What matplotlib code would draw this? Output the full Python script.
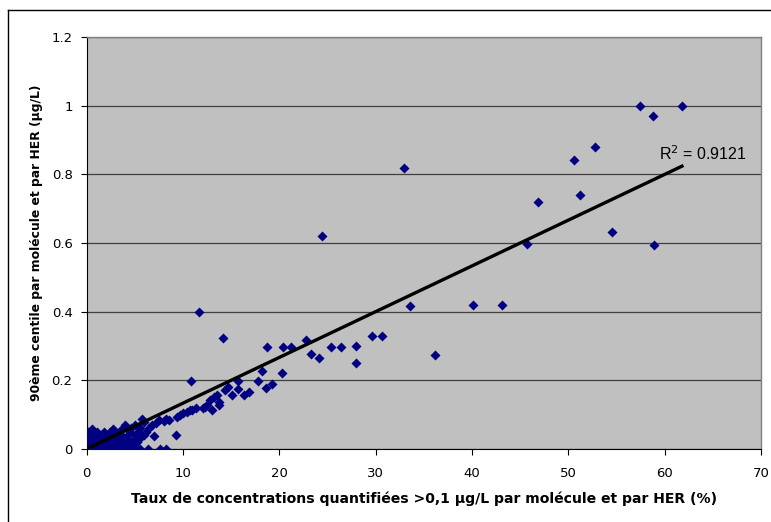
import matplotlib.pyplot as plt
import numpy as np
from matplotlib.ticker import FormatStrFormatter

plt.rcParams['font.family'] = ['DejaVu Sans']

# taux de concentrations quantifiees (%) / 90eme centile (ug/L)
x_cluster = [0, 0.2, 0.4, 0.6, 0.8, 1.0, 1.3, 1.6, 2.0, 2.3, 2.7, 3.0, 3.4, 3.8, 4.2, 4.6, 5.0, 5.6, 6.4, 7.6, 8.3,
             0.1, 0.3, 0.5, 0.8, 1.1, 1.5, 1.9, 2.4, 2.9, 3.5, 4.1, 4.8,
             0.0, 0.2, 0.5, 0.9, 1.2, 1.7, 2.2, 2.6, 3.1, 3.7, 4.4, 5.2,
             0.1, 0.4, 0.7, 1.0, 1.4, 2.0, 2.5, 3.3, 4.0, 4.9, 5.5,
             0.0, 0.3, 0.9, 1.6, 2.1, 2.8, 3.6, 4.3, 5.1, 6.0, 7.0,
             0.2, 1.1, 1.8, 2.4, 3.4, 4.5, 5.3, 6.2,
             0.6, 2.8, 3.8, 4.6, 5.6, 6.5,
             4.0, 5.0, 6.8, 7.2,
             5.8, 6.0, 7.5, 8.0, 8.2, 9.3]
y_cluster = [0, 0, 0, 0, 0, 0, 0, 0, 0, 0, 0, 0, 0, 0, 0, 0, 0, 0, 0, 0, 0,
             0.01, 0.01, 0.01, 0.01, 0.01, 0.01, 0.01, 0.01, 0.01, 0.01, 0.01, 0.01,
             0.02, 0.02, 0.02, 0.02, 0.02, 0.02, 0.02, 0.02, 0.02, 0.02, 0.02, 0.02,
             0.03, 0.03, 0.03, 0.03, 0.03, 0.03, 0.03, 0.03, 0.03, 0.03, 0.03,
             0.04, 0.04, 0.04, 0.04, 0.04, 0.04, 0.04, 0.04, 0.04, 0.04, 0.038,
             0.05, 0.05, 0.05, 0.05, 0.05, 0.05, 0.05, 0.05,
             0.057, 0.057, 0.06, 0.06, 0.06, 0.06,
             0.07, 0.07, 0.07, 0.075,
             0.087, 0.08, 0.085, 0.083, 0.087, 0.041]

x_mid = [8.6, 9.4, 9.7, 10.0, 10.4, 10.7, 11.0, 11.4, 12.1, 12.3, 12.5, 12.8, 13.0, 13.2, 13.5, 13.7, 13.8,
         10.8, 11.7, 14.2, 14.4, 14.7, 15.1, 15.7, 15.7, 16.3, 16.9, 17.8, 18.2, 18.6, 19.3, 18.7,
         20.3, 20.4, 21.2, 22.8, 23.3, 24.1, 24.4, 25.4, 26.4, 28.0, 28.0, 29.6, 30.7]
y_mid = [0.085, 0.092, 0.098, 0.106, 0.109, 0.114, 0.114, 0.119, 0.119, 0.123, 0.128, 0.143, 0.114, 0.152, 0.157, 0.138, 0.128,
         0.198, 0.399, 0.322, 0.172, 0.182, 0.157, 0.198, 0.174, 0.157, 0.167, 0.198, 0.227, 0.177, 0.19, 0.297,
         0.22, 0.297, 0.297, 0.318, 0.278, 0.266, 0.62, 0.297, 0.297, 0.301, 0.25, 0.329, 0.329]

x_high = [32.9, 33.6, 36.2, 40.1, 43.1, 45.7, 46.9, 50.6, 51.2, 52.8, 54.5, 57.4, 58.8, 58.9, 61.8]
y_high = [0.819, 0.417, 0.273, 0.420, 0.420, 0.597, 0.720, 0.842, 0.740, 0.881, 0.631, 1.0, 0.971, 0.593, 1.0]

x_vals = np.array(x_cluster + x_mid + x_high)
y_vals = np.array(y_cluster + y_mid + y_high)

# courbe de tendance lineaire
trend_slope = 0.01333
trend_intercept = 0.0
r2_label = 'R$^2$ = 0.9121'

fig = plt.figure(figsize=(7.71, 5.22), dpi=100)
ax = fig.add_axes([86.5 / 771, 1 - 449 / 522, (761 - 86.5) / 771, (449 - 37) / 522])
ax.set_facecolor('#C0C0C0')

ax.scatter(x_vals, y_vals, marker='D', s=26, color='#000080', linewidths=0, zorder=3)

xt = np.array([x_vals.min(), x_vals.max()])
ax.plot(xt, trend_slope * xt + trend_intercept, color='black', lw=2.4, zorder=4)
ax.text(64.0, 0.843, r2_label, fontsize=11.5, family='Liberation Sans',
        ha='center', va='baseline', zorder=5)

ax.set_xlim(0, 70)
ax.set_ylim(0, 1.2)
ax.set_xticks(np.arange(0, 71, 10))
ax.set_yticks(np.arange(0, 1.21, 0.2))
ax.yaxis.set_major_formatter(FormatStrFormatter('%g'))
ax.grid(axis='y', color='#404040', lw=0.9, zorder=1)
ax.set_axisbelow(True)
ax.tick_params(direction='out', length=4, width=0.8, labelsize=9.5)
ax.tick_params(axis='x', pad=9)
ax.tick_params(axis='y', pad=6)

for s in ['top', 'right']:
    ax.spines[s].set_color('#808080')
    ax.spines[s].set_linewidth(1.0)
for s in ['left', 'bottom']:
    ax.spines[s].set_color('black')
    ax.spines[s].set_linewidth(0.8)

ax.set_xlabel('Taux de concentrations quantifiées >0,1 µg/L par molécule et par HER (%)',
              fontsize=10.1, fontweight='bold', labelpad=8)
ax.set_ylabel('90ème centile par molécule et par HER (µg/L)', fontsize=8.9, fontweight='bold', labelpad=6)

# cadre du graphique
fig.add_artist(plt.Line2D([8 / 771, 8 / 771], [0, 1 - 10 / 522], color='black', lw=1.0, transform=fig.transFigure))
fig.add_artist(plt.Line2D([8 / 771, 1], [1 - 10 / 522, 1 - 10 / 522], color='black', lw=1.0, transform=fig.transFigure))

fig.savefig('out.png', dpi=100)
